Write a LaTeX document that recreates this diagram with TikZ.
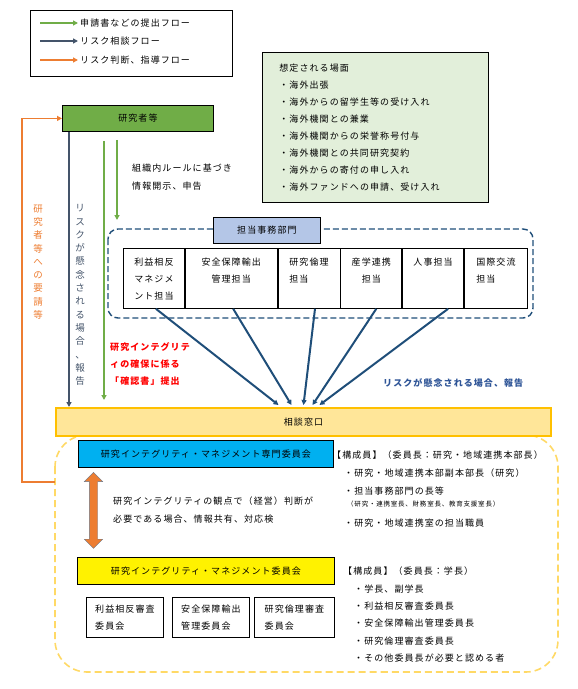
\documentclass[tikz,border=0pt]{standalone}
\usepackage{fontspec}
\setmainfont{Noto Sans CJK JP}[LetterSpace=12]
\usetikzlibrary{arrows.meta,calc,positioning,shapes.arrows}

\definecolor{resgreen}{HTML}{70AD47}
\definecolor{slateblue}{HTML}{44546A}
\definecolor{deptblue}{HTML}{1F4E79}
\definecolor{riskblue}{HTML}{2F5597}
\definecolor{advorange}{HTML}{ED7D31}
\definecolor{scenefill}{HTML}{E2EFDA}
\definecolor{officefill}{HTML}{B4C6E7}
\definecolor{deskfill}{HTML}{FFE699}
\definecolor{deskline}{HTML}{FFC000}
\definecolor{deskdash}{HTML}{FFD966}
\definecolor{specfill}{HTML}{00B0F0}

\tikzset{
  frame/.style={draw=black, line width=0.8pt},
  lglabel/.style={anchor=west, inner sep=2pt},
  scenebox/.style={frame, fill=scenefill, anchor=north west, align=left,
    text width=192pt, inner xsep=17pt, minimum height=150pt},
  resbox/.style={frame, fill=resgreen, anchor=north west, minimum width=151pt, minimum height=26pt},
  officebox/.style={frame, fill=officefill, anchor=north west, minimum width=107pt, minimum height=26pt},
  deptbox/.style={frame, anchor=north west, minimum height=60pt, inner sep=0pt},
  depttext/.style={anchor=north, inner sep=0pt},
  deskbox/.style={draw=deskline, line width=2pt, fill=deskfill, anchor=north west,
    minimum width=495pt, minimum height=28pt},
  specbox/.style={frame, fill=specfill, anchor=north west, minimum width=255pt, minimum height=27pt},
  mgmtbox/.style={frame, fill=yellow, anchor=north west, minimum width=257pt, minimum height=27pt},
  cmtbox/.style={frame, anchor=north west, align=left, minimum height=40pt},
  submitflow/.style={resgreen, line width=1.6pt},
  riskflow/.style={slateblue, line width=1.6pt},
  deptflow/.style={deptblue, line width=2pt},
  adviseflow/.style={advorange, line width=1.6pt},
}

\begin{document}
\begin{tikzpicture}[x=1pt, y=-1pt, >={Triangle[length=5pt,width=5pt]},
    font=\fontsize{9}{17}\selectfont]
  \useasboundingbox (0,0) rectangle (578,689);

  % --- legend ---
  \node[frame, anchor=north west, minimum width=202pt, minimum height=66pt] (legend) at (30,10) {};
  \node[lglabel] (lgsubmit) at (78,23) {申請書などの提出フロー};
  \node[lglabel] (lgrisk) at (78,41) {リスク相談フロー};
  \node[lglabel] (lgadvise) at (78,60) {リスク判断、指導フロー};
  \coordinate (lgsubmitstart) at (40,23);
  \coordinate (lgriskstart) at (40,41);
  \coordinate (lgadvisestart) at (40,60);
  \draw[submitflow, ->] (lgsubmitstart) -- (lgsubmit.west);
  \draw[riskflow, ->] (lgriskstart) -- (lgrisk.west);
  \draw[adviseflow, ->] (lgadvisestart) -- (lgadvise.west);

  % --- scenes ---
  \node[scenebox] (scene) at (262,52) {想定される場面\\
    ・海外出張\\
    ・海外からの留学生等の受け入れ\\
    ・海外機関との兼業\\
    ・海外機関からの栄誉称号付与\\
    ・海外機関との共同研究契約\\
    ・海外からの寄付の申し入れ\\
    ・海外ファンドへの申請、受け入れ};

  % --- researchers ---
  \node[resbox] (res) at (62,105) {研究者等};

  % --- administrative departments ---
  \draw[deptblue, dashed, dash pattern=on 6pt off 3pt, line width=1.4pt, rounded corners=10pt]
    (108,229) rectangle (533,318);
  \node[officebox] (office) at (213,217) {担当事務部門};
  \node[deptbox, minimum width=61pt] (d1) at (123,248) {};
  \node[deptbox, minimum width=92pt] (d2) at (d1.north east) {};
  \node[deptbox, minimum width=62pt] (d3) at (d2.north east) {};
  \node[deptbox, minimum width=61pt] (d4) at (d3.north east) {};
  \node[deptbox, minimum width=61pt] (d5) at (d4.north east) {};
  \node[deptbox, minimum width=63pt] (d6) at (d5.north east) {};
  \node[depttext, align=left] (t1) at ([yshift=-9.5pt]d1.north) {利益相反\\マネジメ\\ント担当};
  \node[depttext, align=center] (t2) at ([yshift=-9.5pt]d2.north) {安全保障輸出\\管理担当};
  \node[depttext, align=left] (t3) at ([yshift=-9.5pt]d3.north) {研究倫理\\担当};
  \node[depttext, align=center] (t4) at ([yshift=-9.5pt]d4.north) {産学連携\\担当};
  \node[depttext, align=center] (t5) at ([yshift=-9.5pt]d5.north) {人事担当};
  \node[depttext, align=left] (t6) at ([yshift=-9.5pt]d6.north) {国際交流\\担当};

  % --- consultation desk and committees ---
  \draw[deskdash, dashed, dash pattern=on 7pt off 4pt, line width=1.6pt, rounded corners=32pt]
    (55,435) rectangle (558,672);
  \node[deskbox] (desk) at (55,407) {相談窓口};
  \node[specbox] (spec) at (78,440) {研究インテグリティ・マネジメント専門委員会};
  \node[mgmtbox] (mgmt) at (77,557) {研究インテグリティ・マネジメント委員会};
  \node[cmtbox, minimum width=77pt] (c1) at (86,597) {利益相反審査\\委員会};
  \node[cmtbox, minimum width=77pt] (c2) at (172,597) {安全保障輸出\\管理委員会};
  \node[cmtbox, minimum width=80pt] (c3) at (254,597) {研究倫理審査\\委員会};
  \node[double arrow, draw=slateblue!80, fill=advorange, rotate=90, inner sep=4pt,
    minimum height=76pt, minimum width=18pt, double arrow head extend=5pt] (link)
    at ($(spec.south west)!0.5!(mgmt.north west)+(16,-2)$) {};
  \node[anchor=north west, align=left, inner sep=0pt, font=\fontsize{9}{18}\selectfont] (linktext)
    at (113,497) {研究インテグリティの観点で（経営）判断が\\必要である場合、情報共有、対応検};

  % --- members ---
  \node[anchor=west, inner sep=0pt] (spechead) at (332,455) {【構成員】（委員長：研究・地域連携本部長）};
  \node[anchor=west, inner sep=0pt] (specm1) at (344,473) {・研究・地域連携本部副本部長（研究）};
  \node[anchor=west, inner sep=0pt] (specm2) at (344,491) {・担当事務部門の長等};
  \node[anchor=west, inner sep=0pt, font=\fontsize{6.5}{8}\selectfont] (specm2b) at (347,504)
    {（研究・連携室長、財務室長、教育支援室長）};
  \node[anchor=west, inner sep=0pt] (specm3) at (344,523) {・研究・地域連携室の担当職員};
  \node[anchor=north west, align=left, inner sep=0pt, font=\fontsize{9}{17.3}\selectfont] (mgmtmem)
    at (343,567) {【構成員】（委員長：学長）\\
    \hspace*{11pt}・学長、副学長\\
    \hspace*{11pt}・利益相反審査委員長\\
    \hspace*{11pt}・安全保障輸出管理委員長\\
    \hspace*{11pt}・研究倫理審査委員長\\
    \hspace*{11pt}・その他委員長が必要と認める者};

  % --- flows ---
  \coordinate (frameW) at (55,482);
  \draw[adviseflow, ->] (frameW) -- ++(-33,0) |- (res.west);
  \node[advorange, align=center, inner sep=0pt, font=\fontsize{9.5}{13.3}\selectfont] (advtext) at (38,262)
    {研\\究\\者\\等\\へ\\の\\要\\請\\等};

  \coordinate (riskTop) at ([xshift=7pt]res.south west);
  \draw[riskflow, ->] (riskTop) -- (riskTop |- desk.north);
  \node[slateblue, align=center, inner sep=0pt, font=\fontsize{9.5}{13.3}\selectfont] (risktext) at (80,295)
    {リ\\ス\\ク\\が\\懸\\念\\さ\\れ\\る\\場\\合\\、\\報\\告};

  \coordinate (submitTop) at ([xshift=42pt, yshift=-9pt]res.south west);
  \draw[submitflow, ->] (submitTop) -- ($(submitTop |- desk.north)+(0,-7)$);
  \coordinate (ruleTop) at ([xshift=55pt, yshift=-8pt]res.south west);
  \draw[submitflow, ->] (ruleTop) -- ($(ruleTop |- office.north)+(0,3)$);
  \node[anchor=north west, align=left, inner sep=0pt, font=\fontsize{9}{18}\selectfont] (ruletext)
    at (132,164) {組織内ルールに基づき\\情報開示、申告};
  \node[anchor=north west, align=left, inner sep=0pt, red, font=\bfseries\fontsize{9}{17}\selectfont] (pledge)
    at (110,342) {研究インテグリテ\\ィの確保に係る\\「確認書」提出};

  \foreach \d/\s/\e in {d1/2/-25, d2/2/-12, d3/6/0, d4/5/9, d5/15/16}
    \draw[deptflow, ->] ([xshift=\s pt]\d.south) -- ([xshift=\e pt, yshift=2pt]desk.north);
  \node[anchor=west, inner sep=0pt, riskblue, font=\bfseries\fontsize{9}{17}\selectfont] (risknote)
    at (383,383) {リスクが懸念される場合、報告};
\end{tikzpicture}
\end{document}
